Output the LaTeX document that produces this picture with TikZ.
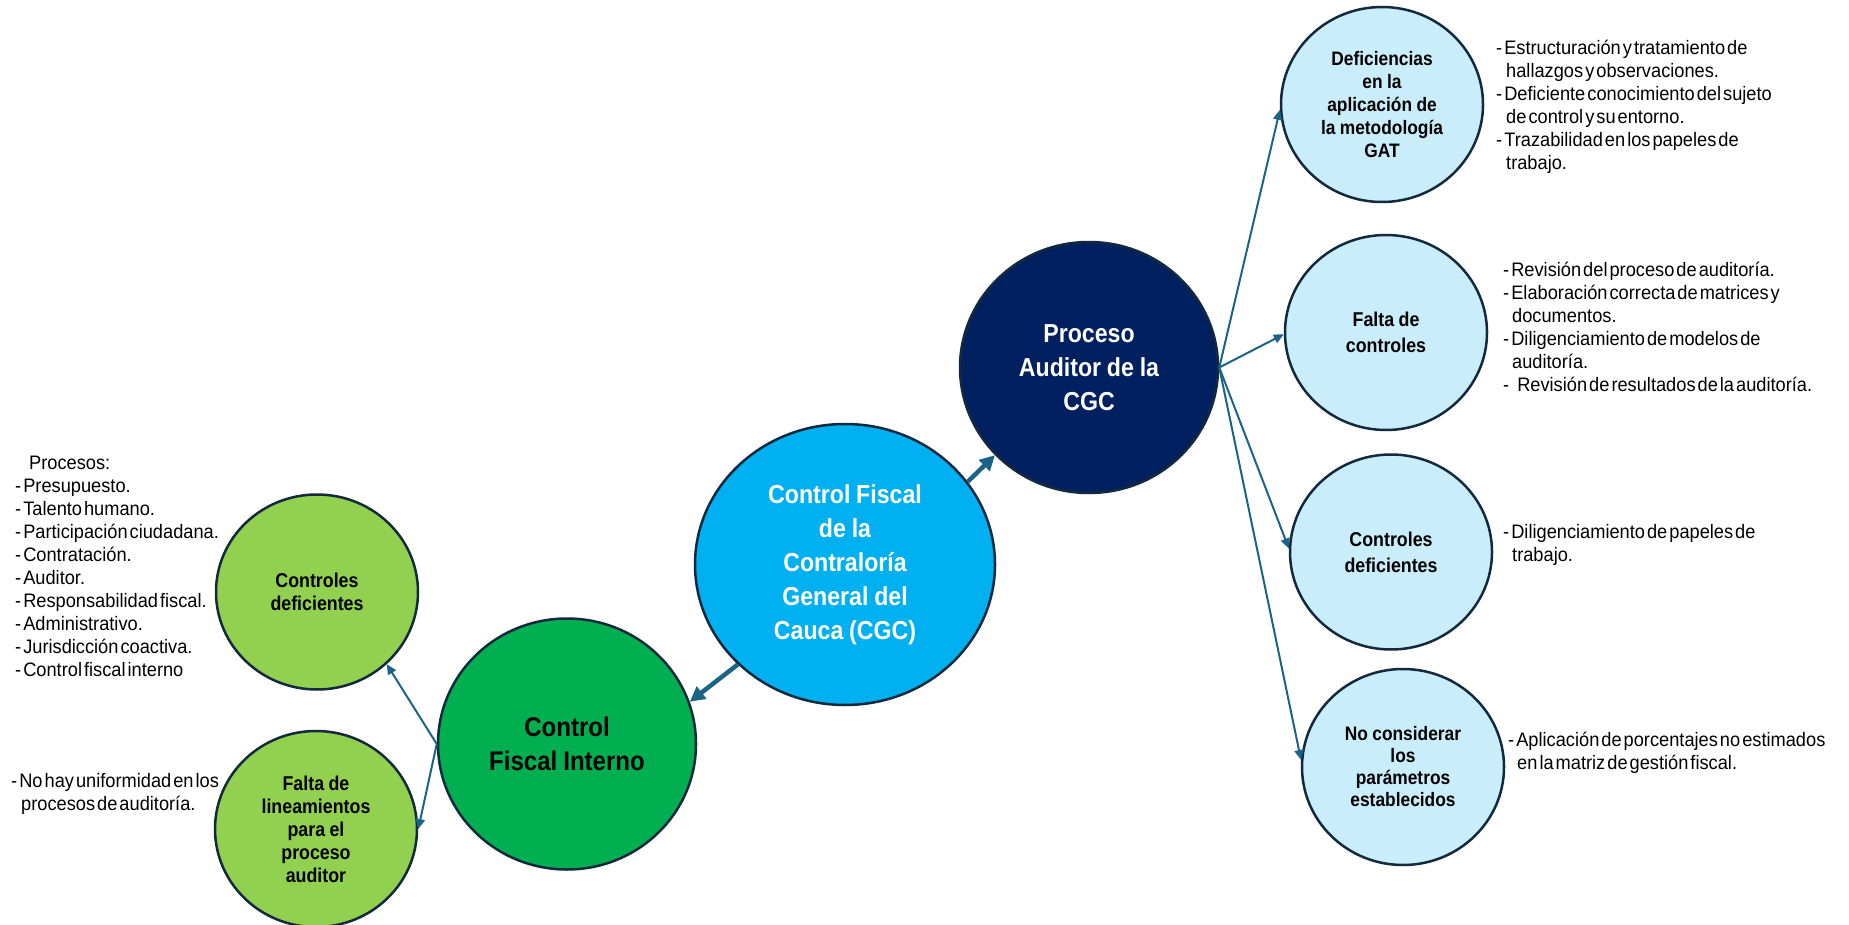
\documentclass[tikz,border=0pt]{standalone}
\usepackage{fontspec}
\setmainfont{Liberation Sans}[UprightFeatures={FakeStretch=0.935,WordSpace=0.4},BoldFeatures={FakeStretch=0.89,WordSpace=0.9}]
\usetikzlibrary{arrows.meta,shapes.geometric}
\definecolor{arrowc}{HTML}{1B6487}
\definecolor{edgec}{HTML}{13293D}
\definecolor{cgcblue}{HTML}{00B0F0}
\definecolor{navyc}{HTML}{002060}
\definecolor{dgreen}{HTML}{00B050}
\definecolor{lgreen}{HTML}{92D050}
\definecolor{lblue}{HTML}{CAEDFB}
\begin{document}
\begin{tikzpicture}[x=1pt,y=-1pt,
  bubble/.style={ellipse, draw=edgec, line width=2.5pt, inner sep=0pt, align=center},
  bigtext/.style={font={\fontsize{26}{34}\selectfont\bfseries}},
  smalltext/.style={font={\fontsize{20}{23}\selectfont\bfseries}},
  txt/.style={anchor=north west, inner sep=0pt, align=left, font={\fontsize{19.5}{23}\selectfont}},
  thinarrow/.style={draw=arrowc, line width=2pt, -{Triangle[length=10pt,width=9pt]}},
  thickarrow/.style={draw=arrowc, line width=4.5pt, -{Triangle[length=15pt,width=15pt]}}
]
\useasboundingbox (0,0) rectangle (1849,925);
\fill[white] (0,0) rectangle (1849,925);

% central nodes
\node[bubble, bigtext, fill=cgcblue, text=white, minimum width=300pt, minimum height=281pt] (cgc) at (845,564.5)
  {Control Fiscal\\de la\\Contraloría\\General del\\Cauca (CGC)};
\node[bubble, bigtext, fill=navyc, text=white, minimum width=258pt, minimum height=251pt] (proc) at (1089,367.5)
  {Proceso\\Auditor de la\\CGC};
\node[bubble, fill=dgreen, minimum width=258pt, minimum height=251pt,
  font={\fontsize{27}{34}\selectfont\bfseries}] (cfi) at (567,744)
  {Control\\Fiscal Interno};

% left nodes
\node[bubble, smalltext, fill=lgreen, minimum width=202pt, minimum height=195pt] (lcd) at (317,592)
  {Controles\\deficientes};
\node[bubble, smalltext, fill=lgreen, minimum width=202pt, minimum height=196pt] (lfl) at (316,829)
  {Falta de\\lineamientos\\para el\\proceso\\auditor};

% right nodes
\node[bubble, fill=lblue, minimum width=202pt, minimum height=195pt,
  font={\fontsize{19.5}{23}\selectfont\bfseries}] (def) at (1382,104.5)
  {Deficiencias\\en la\\aplicación de\\la metodología\\GAT};
\node[bubble, fill=lblue, minimum width=202pt, minimum height=195pt,
  font={\fontsize{20}{26}\selectfont\bfseries}] (fdc) at (1386,332.5)
  {Falta de\\controles};
\node[bubble, fill=lblue, minimum width=202pt, minimum height=195pt,
  font={\fontsize{20}{26}\selectfont\bfseries}] (rcd) at (1391,552)
  {Controles\\deficientes};
\node[bubble, fill=lblue, minimum width=202pt, minimum height=196pt,
  font={\fontsize{19.5}{22}\selectfont\bfseries}] (nc) at (1403,767)
  {No considerar\\los\\parámetros\\establecidos};

% text blocks
\node[txt] (plist) at (15,449.5) {\rule{0pt}{19.5pt}\hspace*{14pt}Procesos:\\- Presupuesto.\\- Talento humano.\\- Participación ciudadana.\\- Contratación.\\- Auditor.\\- Responsabilidad fiscal.\\- Administrativo.\\- Jurisdicción coactiva.\\- Control fiscal interno};
\node[txt] (nolist) at (11,767.5) {\rule{0pt}{19.5pt}- No hay uniformidad en los\\\hspace*{10pt}procesos de auditoría.};
\node[txt] (t1) at (1496,34.5) {\rule{0pt}{19.5pt}- Estructuración y tratamiento de\\\hspace*{10pt}hallazgos y observaciones.\\- Deficiente conocimiento del sujeto\\\hspace*{10pt}de control y su entorno.\\- Trazabilidad en los papeles de\\\hspace*{10pt}trabajo.};
\node[txt] (t2) at (1503,256.5) {\rule{0pt}{19.5pt}- Revisión del proceso de auditoría.\\- Elaboración correcta de matrices y\\\hspace*{9pt}documentos.\\- Diligenciamiento de modelos de\\\hspace*{9pt}auditoría.\\-\hspace*{8pt}Revisión de resultados de la auditoría.};
\node[txt] (t3) at (1503,518.5) {\rule{0pt}{19.5pt}- Diligenciamiento de papeles de\\\hspace*{9pt}trabajo.};
\node[txt] (t4) at (1508,726.5) {\rule{0pt}{19.5pt}- Aplicación de porcentajes no estimados\\\hspace*{9pt}en la matriz de gestión fiscal.};

% connectors
\draw[thickarrow] (cgc.34) -- (proc.223);
\draw[thickarrow] (cgc.223) -- (cfi.19);
\draw[thinarrow] (cfi.west) -- (lcd.314);
\draw[thinarrow] (cfi.west) -- (lfl.east);
\draw[thinarrow] (proc.east) -- (def.183);
\draw[thinarrow] (proc.east) -- (fdc.181);
\draw[thinarrow] (proc.east) -- (rcd.178);
\draw[thinarrow] (proc.east) -- (nc.176);
\end{tikzpicture}
\end{document}
